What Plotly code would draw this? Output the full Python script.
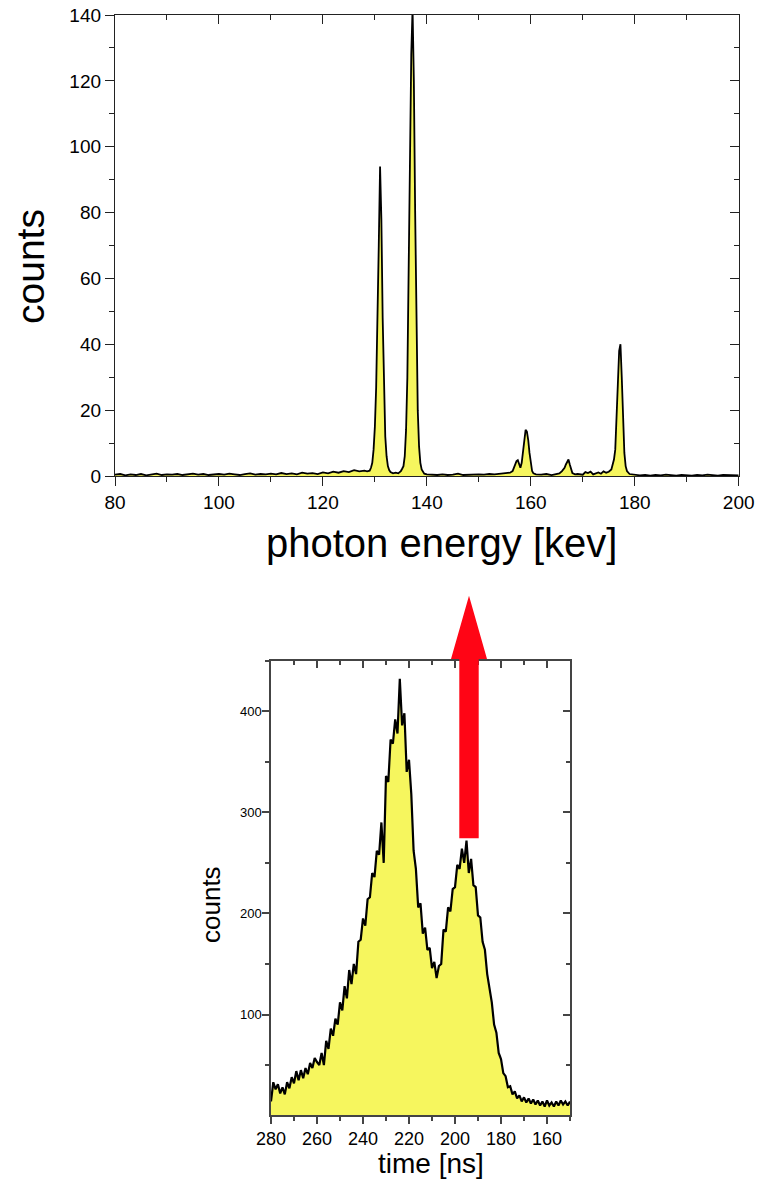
import plotly.graph_objects as go

# ---------------- data: top spectrum (photon energy) ----------------
energy_kev = [
    80, 81, 82, 83, 84, 85, 86, 87, 88, 89,
    90, 91, 92, 93, 94, 95, 96, 97, 98, 99,
    100, 101, 102, 103, 104, 105, 106, 107, 108, 109,
    110, 111, 112, 113, 114, 115, 116, 117, 118, 119,
    120, 121, 122, 123, 124, 125, 126, 127, 128,
    128.5, 129.0, 129.25, 129.5, 129.75, 130.0, 130.25, 130.5, 130.75, 131.0,
    131.25, 131.5, 131.75, 132.0, 132.25, 132.5, 132.75, 133.0, 133.5, 134.0,
    134.5, 135.0, 135.25, 135.5, 135.75, 136.0, 136.25, 136.5, 136.75, 137.0,
    137.25, 137.5, 137.75, 138.0, 138.25, 138.5, 138.75, 139.0, 139.25, 139.5,
    140, 141, 142, 143, 144, 145, 146, 147, 148, 149,
    150, 151, 152, 153, 154, 155, 156,
    156.5, 156.75, 157.0, 157.25, 157.5, 157.75, 158.0, 158.25, 158.5, 158.75,
    159.0, 159.25, 159.5, 159.75, 160.0, 160.25, 160.5, 161,
    162, 163, 164, 165, 165.5, 166.0, 166.5, 166.75, 167.0, 167.25,
    167.5, 167.75, 168.0, 168.5, 169, 170, 170.5, 171, 171.5, 172,
    172.5, 173, 173.5, 174, 174.5, 175, 175.5, 175.75, 176.0, 176.25,
    176.5, 176.75, 177.0, 177.25, 177.5, 177.75, 178.0, 178.25, 178.5, 179,
    180, 181, 182, 183, 184, 185, 186, 187, 188, 189,
    190, 191, 192, 193, 194, 195, 196, 197, 198, 199, 200,
]
counts_energy = [
    0.4, 0.6, 0.2, 0.5, 0.3, 0.6, 0.2, 0.4, 0.7, 0.3,
    0.5, 0.4, 0.6, 0.3, 0.5, 0.7, 0.4, 0.6, 0.3, 0.5,
    0.6, 0.4, 0.7, 0.5, 0.3, 0.6, 0.8, 0.4, 0.6, 0.5,
    0.7, 0.5, 0.9, 0.6, 0.8, 0.5, 1.0, 0.7, 0.9, 0.6,
    1.1, 0.8, 1.3, 1.0, 1.5, 1.2, 1.8, 1.4, 1.6,
    1.4, 1.6, 2.5, 4, 8, 15, 27, 45, 70, 94,
    78, 48, 25, 12, 6, 3, 1.8, 1.2, 0.8, 1.0,
    0.8, 1.5, 2.2, 3, 6, 14, 30, 60, 100, 128,
    142, 120, 80, 42, 20, 9, 4, 2, 1.2, 0.7,
    0.5, 0.4, 0.3, 0.5, 0.3, 0.4, 0.7, 0.3, 0.4, 0.3,
    0.5, 0.4, 0.6, 0.5, 0.7, 0.8, 1.0,
    1.5, 2.5, 3.5, 4.5, 4.8, 3.5, 2.5, 4, 8, 12,
    14, 13.5, 11, 7, 3.5, 1.5, 0.8, 0.5,
    0.4, 0.6, 0.3, 0.5, 0.8, 1.5, 2.5, 3.5, 4.2, 5,
    3.5, 1.8, 0.9, 0.5, 0.6, 0.4, 1.2, 0.9, 1.3, 0.5,
    0.8, 1.1, 0.7, 1.4, 1.0, 1.3, 2.0, 3.5, 5, 8,
    16, 28, 38, 40, 30, 16, 7, 3, 1.5, 0.6,
    0.3, 0.2, 0.3, 0.1, 0.3, 0.2, 0.4, 0.2, 0.1, 0.3,
    0.2, 0.1, 0.3, 0.2, 0.4, 0.2, 0.1, 0.3, 0.2, 0.3, 0.2,
]
assert len(energy_kev) == len(counts_energy)

# ---------------- data: bottom spectrum (time) ----------------
time_ns = [
    280, 279, 278, 277, 276, 275, 274, 273, 272, 271,
    270, 269, 268, 267, 266, 265, 264, 263, 262, 261,
    260, 259, 258, 257, 256, 255, 254, 253, 252, 251,
    250, 249, 248, 247, 246, 245, 244, 243, 242, 241,
    240, 239, 238, 237, 236, 235, 234, 233, 232, 231,
    230, 229, 228, 227, 226, 225, 224, 223, 222, 221,
    220, 219, 218, 217, 216, 215, 214, 213, 212, 211,
    210, 209, 208, 207, 206, 205, 204, 203, 202, 201,
    200, 199, 198, 197, 196, 195, 194, 193, 192, 191,
    190, 189, 188, 187, 186, 185, 184, 183, 182, 181,
    180, 179, 178, 177, 176, 175, 174, 173, 172, 171,
    170, 169, 168, 167, 166, 165, 164, 163, 162, 161,
    160, 159, 158, 157, 156, 155, 154, 153, 152, 151, 150,
]
counts_time = [
    14, 33, 26, 31, 22, 28, 21, 33, 27, 38,
    32, 44, 35, 45, 37, 47, 41, 52, 47, 57,
    53, 50, 62, 50, 74, 66, 86, 79, 96, 90,
    112, 104, 128, 116, 144, 130, 150, 140, 172, 174,
    195, 188, 214, 216, 240, 236, 262, 258, 290, 250,
    336, 330, 372, 368, 392, 378, 432, 386, 398, 340,
    352, 318, 262, 244, 206, 210, 180, 186, 164, 166,
    146, 152, 136, 148, 150, 184, 182, 206, 202, 224,
    226, 248, 244, 264, 250, 272, 240, 254, 228, 226,
    198, 196, 172, 164, 140, 124, 112, 90, 82, 62,
    56, 42, 39, 28, 29, 21, 24, 17, 20, 14,
    18, 13, 17, 12, 16, 11, 15, 10, 14, 9,
    15, 10, 13, 9, 14, 10, 15, 11, 14, 10, 14,
]
assert len(time_ns) == len(counts_time)

YELLOW = "#F6F65E"
FONT = "Liberation Sans, Arial, sans-serif"
W, H = 761, 1182

fig = go.Figure()

fig.add_trace(go.Scatter(
    x=energy_kev, y=counts_energy, mode="lines",
    line=dict(color="black", width=1.8),
    fill="tozeroy", fillcolor=YELLOW,
    xaxis="x", yaxis="y", showlegend=False, hoverinfo="skip",
))
fig.add_trace(go.Scatter(
    x=time_ns, y=counts_time, mode="lines",
    line=dict(color="black", width=2.2),
    fill="tozeroy", fillcolor=YELLOW,
    xaxis="x2", yaxis="y2", showlegend=False, hoverinfo="skip",
))
# invisible traces for the mirrored (inward) tick axes
fig.add_trace(go.Scatter(x=[None], y=[None], xaxis="x3", yaxis="y3",
                         showlegend=False, hoverinfo="skip"))
fig.add_trace(go.Scatter(x=[None], y=[None], xaxis="x4", yaxis="y4",
                         showlegend=False, hoverinfo="skip"))

def px_x(p):
    return p / W

def px_y(p):
    return 1 - p / H

top_xd = [px_x(115), px_x(738.7)]
top_yd = [px_y(476), px_y(15)]
bot_xd = [px_x(271), px_x(570)]
bot_yd = [px_y(1115), px_y(660.7)]

TOP_LINE = "#222222"
BOT_LINE = "#444444"

def base_axis(domain, rng, dtick, mdtick, ticklen, mlen, color, lw, fsize, anchor, standoff=0):
    return dict(
        domain=domain, range=rng, anchor=anchor, automargin=False,
        tickmode="linear", tick0=0, dtick=dtick,
        ticks="outside", ticklen=ticklen, tickwidth=lw, tickcolor=color,
        minor=dict(ticks="outside", ticklen=mlen, tickwidth=lw, tickcolor=color,
                   tickmode="linear", tick0=0, dtick=mdtick, showgrid=False),
        showline=True, linecolor=color, linewidth=lw, mirror=True,
        showgrid=False, zeroline=False, ticklabelstandoff=standoff,
        tickfont=dict(family=FONT, size=fsize, color="black"),
    )

def mirror_axis(overlay, side, rng, dtick, mdtick, ticklen, mlen, color, lw, anchor):
    return dict(
        overlaying=overlay, side=side, range=rng, anchor=anchor, automargin=False,
        tickmode="linear", tick0=0, dtick=dtick,
        ticks="inside", ticklen=ticklen, tickwidth=lw, tickcolor=color,
        minor=dict(ticks="inside", ticklen=mlen, tickwidth=lw, tickcolor=color,
                   tickmode="linear", tick0=0, dtick=mdtick, showgrid=False),
        showticklabels=False, showline=False, showgrid=False, zeroline=False,
    )

fig.update_layout(
    width=W, height=H,
    margin=dict(l=0, r=0, t=0, b=0, autoexpand=False),
    paper_bgcolor="white", plot_bgcolor="white",
    font=dict(family=FONT, color="black"),
    xaxis=base_axis(top_xd, [80, 200], 20, 10, 9, 5, TOP_LINE, 1.3, 19, "y"),
    yaxis=base_axis(top_yd, [0, 140], 20, 10, 9, 5, TOP_LINE, 1.3, 19, "x"),
    xaxis2=base_axis(bot_xd, [280, 150], 20, 10, 7, 4, BOT_LINE, 1.5, 18, "y2"),
    yaxis2=base_axis(bot_yd, [0.6, 450], 100, 50, 7, 4, BOT_LINE, 1.5, 13, "x2", -2),
    xaxis3=mirror_axis("x", "top", [80, 200], 20, 10, 9, 5, TOP_LINE, 1.3, "y3"),
    yaxis3=mirror_axis("y", "right", [0, 140], 20, 10, 9, 5, TOP_LINE, 1.3, "x3"),
    xaxis4=mirror_axis("x2", "top", [280, 150], 20, 10, 7, 4, BOT_LINE, 1.5, "y4"),
    yaxis4=mirror_axis("y2", "right", [0.6, 450], 100, 50, 7, 4, BOT_LINE, 1.5, "x4"),
)

# axis titles
fig.add_annotation(text="counts", x=px_x(31), y=px_y(266), xref="paper", yref="paper",
                   textangle=-90, showarrow=False, xanchor="center", yanchor="middle",
                   font=dict(family=FONT, size=39, color="black"))
fig.add_annotation(text="photon energy [kev]", x=px_x(441), y=px_y(543), xref="paper", yref="paper",
                   showarrow=False, xanchor="center", yanchor="middle",
                   font=dict(family=FONT, size=40, color="black"))
fig.add_annotation(text="counts", x=px_x(211), y=px_y(905), xref="paper", yref="paper",
                   textangle=-90, showarrow=False, xanchor="center", yanchor="middle",
                   font=dict(family=FONT, size=26, color="black"))
fig.add_annotation(text="time [ns]", x=px_x(431), y=px_y(1163), xref="paper", yref="paper",
                   showarrow=False, xanchor="center", yanchor="middle",
                   font=dict(family=FONT, size=28, color="black"))

# red arrow (decoration pointing from the time peak up to the energy spectrum)
ax = [px_x(451), px_x(459.3), px_x(469), px_x(478.7), px_x(487)]
ay = [px_y(838.3), px_y(659), px_y(595.7)]
path = (f"M {ax[1]},{ay[0]} L {ax[1]},{ay[1]} L {ax[0]},{ay[1]} L {ax[2]},{ay[2]} "
        f"L {ax[4]},{ay[1]} L {ax[3]},{ay[1]} L {ax[3]},{ay[0]} Z")
fig.add_shape(type="path", path=path, xref="paper", yref="paper",
              fillcolor="#FF0515", line=dict(width=0), layer="above")

fig.write_html("out.html", config={"displayModeBar": False},
               post_script="document.body.style.margin='0';document.body.style.overflow='hidden';")
